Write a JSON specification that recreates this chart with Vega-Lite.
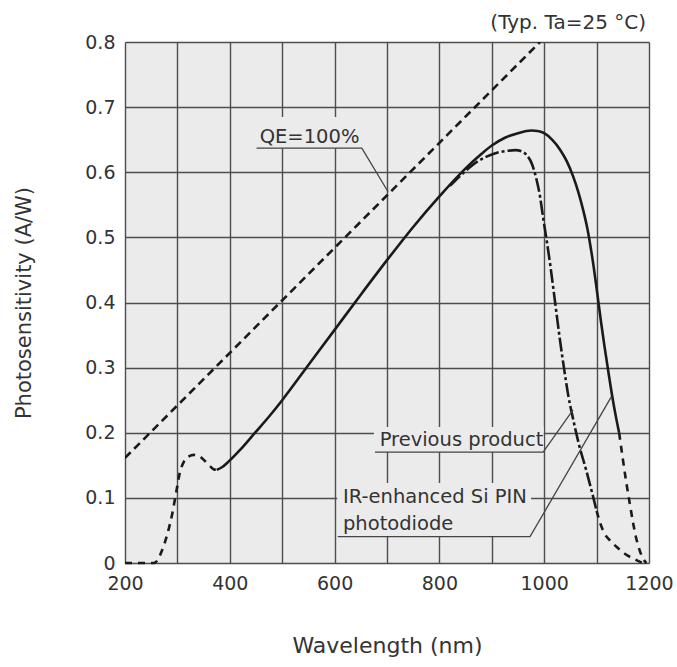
{
  "$schema": "https://vega.github.io/schema/vega-lite/v6.json",
  "width": 524,
  "height": 521,
  "autosize": "none",
  "padding": {"left": 125, "top": 42, "right": 28, "bottom": 104},
  "background": "white",
  "config": {
    "view": {"fill": "#ebebeb", "stroke": null},
    "font": "DejaVu Sans"
  },
  "datasets": {
    "curves": [
      {"series": "QE=100%", "part": "measured", "seg": "qe", "nm": 200, "s": 0.1613},
      {"series": "QE=100%", "part": "measured", "seg": "qe", "nm": 600, "s": 0.4839},
      {"series": "QE=100%", "part": "measured", "seg": "qe", "nm": 992, "s": 0.8},

      {"series": "IR-enhanced Si PIN photodiode", "part": "extrapolated", "seg": "left", "nm": 200, "s": 0},
      {"series": "IR-enhanced Si PIN photodiode", "part": "extrapolated", "seg": "left", "nm": 255, "s": 0},
      {"series": "IR-enhanced Si PIN photodiode", "part": "extrapolated", "seg": "left", "nm": 262, "s": 0.004},
      {"series": "IR-enhanced Si PIN photodiode", "part": "extrapolated", "seg": "left", "nm": 270, "s": 0.018},
      {"series": "IR-enhanced Si PIN photodiode", "part": "extrapolated", "seg": "left", "nm": 280, "s": 0.042},
      {"series": "IR-enhanced Si PIN photodiode", "part": "extrapolated", "seg": "left", "nm": 290, "s": 0.075},
      {"series": "IR-enhanced Si PIN photodiode", "part": "extrapolated", "seg": "left", "nm": 298, "s": 0.11},
      {"series": "IR-enhanced Si PIN photodiode", "part": "extrapolated", "seg": "left", "nm": 305, "s": 0.14},
      {"series": "IR-enhanced Si PIN photodiode", "part": "extrapolated", "seg": "left", "nm": 312, "s": 0.155},
      {"series": "IR-enhanced Si PIN photodiode", "part": "extrapolated", "seg": "left", "nm": 320, "s": 0.163},
      {"series": "IR-enhanced Si PIN photodiode", "part": "extrapolated", "seg": "left", "nm": 332, "s": 0.166},
      {"series": "IR-enhanced Si PIN photodiode", "part": "extrapolated", "seg": "left", "nm": 342, "s": 0.164},
      {"series": "IR-enhanced Si PIN photodiode", "part": "extrapolated", "seg": "left", "nm": 352, "s": 0.157},
      {"series": "IR-enhanced Si PIN photodiode", "part": "extrapolated", "seg": "left", "nm": 362, "s": 0.149},
      {"series": "IR-enhanced Si PIN photodiode", "part": "extrapolated", "seg": "left", "nm": 369, "s": 0.144},
      {"series": "IR-enhanced Si PIN photodiode", "part": "extrapolated", "seg": "left", "nm": 375, "s": 0.143},

      {"series": "IR-enhanced Si PIN photodiode", "part": "measured", "seg": "main", "nm": 375, "s": 0.143},
      {"series": "IR-enhanced Si PIN photodiode", "part": "measured", "seg": "main", "nm": 385, "s": 0.147},
      {"series": "IR-enhanced Si PIN photodiode", "part": "measured", "seg": "main", "nm": 398, "s": 0.156},
      {"series": "IR-enhanced Si PIN photodiode", "part": "measured", "seg": "main", "nm": 420, "s": 0.174},
      {"series": "IR-enhanced Si PIN photodiode", "part": "measured", "seg": "main", "nm": 447, "s": 0.199},
      {"series": "IR-enhanced Si PIN photodiode", "part": "measured", "seg": "main", "nm": 475, "s": 0.225},
      {"series": "IR-enhanced Si PIN photodiode", "part": "measured", "seg": "main", "nm": 500, "s": 0.25},
      {"series": "IR-enhanced Si PIN photodiode", "part": "measured", "seg": "main", "nm": 550, "s": 0.304},
      {"series": "IR-enhanced Si PIN photodiode", "part": "measured", "seg": "main", "nm": 600, "s": 0.358},
      {"series": "IR-enhanced Si PIN photodiode", "part": "measured", "seg": "main", "nm": 650, "s": 0.412},
      {"series": "IR-enhanced Si PIN photodiode", "part": "measured", "seg": "main", "nm": 700, "s": 0.465},
      {"series": "IR-enhanced Si PIN photodiode", "part": "measured", "seg": "main", "nm": 750, "s": 0.516},
      {"series": "IR-enhanced Si PIN photodiode", "part": "measured", "seg": "main", "nm": 800, "s": 0.563},
      {"series": "IR-enhanced Si PIN photodiode", "part": "measured", "seg": "main", "nm": 850, "s": 0.606},
      {"series": "IR-enhanced Si PIN photodiode", "part": "measured", "seg": "main", "nm": 880, "s": 0.628},
      {"series": "IR-enhanced Si PIN photodiode", "part": "measured", "seg": "main", "nm": 900, "s": 0.641},
      {"series": "IR-enhanced Si PIN photodiode", "part": "measured", "seg": "main", "nm": 925, "s": 0.653},
      {"series": "IR-enhanced Si PIN photodiode", "part": "measured", "seg": "main", "nm": 950, "s": 0.66},
      {"series": "IR-enhanced Si PIN photodiode", "part": "measured", "seg": "main", "nm": 975, "s": 0.664},
      {"series": "IR-enhanced Si PIN photodiode", "part": "measured", "seg": "main", "nm": 990, "s": 0.663},
      {"series": "IR-enhanced Si PIN photodiode", "part": "measured", "seg": "main", "nm": 1000, "s": 0.66},
      {"series": "IR-enhanced Si PIN photodiode", "part": "measured", "seg": "main", "nm": 1015, "s": 0.65},
      {"series": "IR-enhanced Si PIN photodiode", "part": "measured", "seg": "main", "nm": 1030, "s": 0.635},
      {"series": "IR-enhanced Si PIN photodiode", "part": "measured", "seg": "main", "nm": 1043, "s": 0.617},
      {"series": "IR-enhanced Si PIN photodiode", "part": "measured", "seg": "main", "nm": 1055, "s": 0.594},
      {"series": "IR-enhanced Si PIN photodiode", "part": "measured", "seg": "main", "nm": 1065, "s": 0.57},
      {"series": "IR-enhanced Si PIN photodiode", "part": "measured", "seg": "main", "nm": 1075, "s": 0.54},
      {"series": "IR-enhanced Si PIN photodiode", "part": "measured", "seg": "main", "nm": 1082, "s": 0.515},
      {"series": "IR-enhanced Si PIN photodiode", "part": "measured", "seg": "main", "nm": 1088, "s": 0.488},
      {"series": "IR-enhanced Si PIN photodiode", "part": "measured", "seg": "main", "nm": 1094, "s": 0.457},
      {"series": "IR-enhanced Si PIN photodiode", "part": "measured", "seg": "main", "nm": 1099, "s": 0.428},
      {"series": "IR-enhanced Si PIN photodiode", "part": "measured", "seg": "main", "nm": 1104, "s": 0.397},
      {"series": "IR-enhanced Si PIN photodiode", "part": "measured", "seg": "main", "nm": 1109, "s": 0.367},
      {"series": "IR-enhanced Si PIN photodiode", "part": "measured", "seg": "main", "nm": 1115, "s": 0.333},
      {"series": "IR-enhanced Si PIN photodiode", "part": "measured", "seg": "main", "nm": 1122, "s": 0.296},
      {"series": "IR-enhanced Si PIN photodiode", "part": "measured", "seg": "main", "nm": 1129, "s": 0.26},
      {"series": "IR-enhanced Si PIN photodiode", "part": "measured", "seg": "main", "nm": 1137, "s": 0.224},
      {"series": "IR-enhanced Si PIN photodiode", "part": "measured", "seg": "main", "nm": 1143, "s": 0.2},

      {"series": "IR-enhanced Si PIN photodiode", "part": "extrapolated", "seg": "right", "nm": 1143, "s": 0.2},
      {"series": "IR-enhanced Si PIN photodiode", "part": "extrapolated", "seg": "right", "nm": 1150, "s": 0.16},
      {"series": "IR-enhanced Si PIN photodiode", "part": "extrapolated", "seg": "right", "nm": 1157, "s": 0.122},
      {"series": "IR-enhanced Si PIN photodiode", "part": "extrapolated", "seg": "right", "nm": 1164, "s": 0.088},
      {"series": "IR-enhanced Si PIN photodiode", "part": "extrapolated", "seg": "right", "nm": 1170, "s": 0.06},
      {"series": "IR-enhanced Si PIN photodiode", "part": "extrapolated", "seg": "right", "nm": 1175, "s": 0.04},
      {"series": "IR-enhanced Si PIN photodiode", "part": "extrapolated", "seg": "right", "nm": 1180, "s": 0.025},
      {"series": "IR-enhanced Si PIN photodiode", "part": "extrapolated", "seg": "right", "nm": 1185, "s": 0.013},
      {"series": "IR-enhanced Si PIN photodiode", "part": "extrapolated", "seg": "right", "nm": 1190, "s": 0.005},
      {"series": "IR-enhanced Si PIN photodiode", "part": "extrapolated", "seg": "right", "nm": 1195, "s": 0},

      {"series": "Previous product", "part": "measured", "seg": "prev", "nm": 820, "s": 0.579},
      {"series": "Previous product", "part": "measured", "seg": "prev", "nm": 850, "s": 0.602},
      {"series": "Previous product", "part": "measured", "seg": "prev", "nm": 870, "s": 0.615},
      {"series": "Previous product", "part": "measured", "seg": "prev", "nm": 890, "s": 0.624},
      {"series": "Previous product", "part": "measured", "seg": "prev", "nm": 910, "s": 0.63},
      {"series": "Previous product", "part": "measured", "seg": "prev", "nm": 930, "s": 0.633},
      {"series": "Previous product", "part": "measured", "seg": "prev", "nm": 945, "s": 0.634},
      {"series": "Previous product", "part": "measured", "seg": "prev", "nm": 957, "s": 0.632},
      {"series": "Previous product", "part": "measured", "seg": "prev", "nm": 967, "s": 0.626},
      {"series": "Previous product", "part": "measured", "seg": "prev", "nm": 977, "s": 0.612},
      {"series": "Previous product", "part": "measured", "seg": "prev", "nm": 985, "s": 0.59},
      {"series": "Previous product", "part": "measured", "seg": "prev", "nm": 992, "s": 0.563},
      {"series": "Previous product", "part": "measured", "seg": "prev", "nm": 998, "s": 0.53},
      {"series": "Previous product", "part": "measured", "seg": "prev", "nm": 1005, "s": 0.494},
      {"series": "Previous product", "part": "measured", "seg": "prev", "nm": 1012, "s": 0.455},
      {"series": "Previous product", "part": "measured", "seg": "prev", "nm": 1018, "s": 0.418},
      {"series": "Previous product", "part": "measured", "seg": "prev", "nm": 1024, "s": 0.38},
      {"series": "Previous product", "part": "measured", "seg": "prev", "nm": 1030, "s": 0.343},
      {"series": "Previous product", "part": "measured", "seg": "prev", "nm": 1038, "s": 0.298},
      {"series": "Previous product", "part": "measured", "seg": "prev", "nm": 1046, "s": 0.257},
      {"series": "Previous product", "part": "measured", "seg": "prev", "nm": 1056, "s": 0.218},
      {"series": "Previous product", "part": "measured", "seg": "prev", "nm": 1066, "s": 0.183},
      {"series": "Previous product", "part": "measured", "seg": "prev", "nm": 1080, "s": 0.143},
      {"series": "Previous product", "part": "measured", "seg": "prev", "nm": 1092, "s": 0.106},
      {"series": "Previous product", "part": "measured", "seg": "prev", "nm": 1100, "s": 0.08},

      {"series": "Previous product", "part": "extrapolated", "seg": "prevtail", "nm": 1100, "s": 0.08},
      {"series": "Previous product", "part": "extrapolated", "seg": "prevtail", "nm": 1107, "s": 0.061},
      {"series": "Previous product", "part": "extrapolated", "seg": "prevtail", "nm": 1114, "s": 0.047},
      {"series": "Previous product", "part": "extrapolated", "seg": "prevtail", "nm": 1125, "s": 0.035},
      {"series": "Previous product", "part": "extrapolated", "seg": "prevtail", "nm": 1135, "s": 0.027},
      {"series": "Previous product", "part": "extrapolated", "seg": "prevtail", "nm": 1145, "s": 0.02},
      {"series": "Previous product", "part": "extrapolated", "seg": "prevtail", "nm": 1156, "s": 0.013},
      {"series": "Previous product", "part": "extrapolated", "seg": "prevtail", "nm": 1167, "s": 0.008},
      {"series": "Previous product", "part": "extrapolated", "seg": "prevtail", "nm": 1177, "s": 0.004},
      {"series": "Previous product", "part": "extrapolated", "seg": "prevtail", "nm": 1188, "s": 0}
    ],
    "boxes": [
      {"label": "QE=100%", "nm": 451, "nm2": 652, "s": 0.637, "s2": 0.685},
      {"label": "Previous product", "nm": 675, "nm2": 999, "s": 0.1703, "s2": 0.209},
      {"label": "IR-enhanced Si PIN photodiode", "nm": 605, "nm2": 975, "s": 0.0404, "s2": 0.123}
    ],
    "leaders": [
      {"label": "QE=100%", "nm": 451, "s": 0.637},
      {"label": "QE=100%", "nm": 652, "s": 0.637},
      {"label": "QE=100%", "nm": 702, "s": 0.57},
      {"label": "Previous product", "nm": 677, "s": 0.1703},
      {"label": "Previous product", "nm": 998, "s": 0.1703},
      {"label": "Previous product", "nm": 1055, "s": 0.235},
      {"label": "IR-enhanced Si PIN photodiode", "nm": 606, "s": 0.0404},
      {"label": "IR-enhanced Si PIN photodiode", "nm": 973, "s": 0.0404},
      {"label": "IR-enhanced Si PIN photodiode", "nm": 1128, "s": 0.255}
    ],
    "texts": [
      {"text": "QE=100%", "nm": 457, "s": 0.645},
      {"text": "Previous product", "nm": 686, "s": 0.1797},
      {"text": "IR-enhanced Si PIN", "nm": 616, "s": 0.0922},
      {"text": "photodiode", "nm": 616, "s": 0.0507}
    ],
    "note": [
      {"text": "(Typ. Ta=25 °C)", "nm": 1200, "s": 0.8}
    ]
  },
  "layer": [
    {
      "data": {"name": "boxes"},
      "mark": {"type": "rect", "fill": "#ebebeb", "stroke": null},
      "encoding": {
        "x": {
          "field": "nm", "type": "quantitative",
          "scale": {"domain": [200, 1200], "nice": false, "zero": false},
          "axis": {
            "title": "Wavelength (nm)",
            "values": [200, 300, 400, 500, 600, 700, 800, 900, 1000, 1100, 1200],
            "format": "d",
            "labelExpr": "datum.value % 200 === 0 ? datum.label : ''",
            "labelOverlap": false,
            "labelFlush": false,
            "grid": true,
            "gridColor": "#4d4d4d",
            "gridWidth": 1.4,
            "ticks": false,
            "tickSize": 0,
            "domain": false,
            "labelFont": "DejaVu Sans",
            "labelFontSize": 19,
            "labelColor": "#333333",
            "labelPadding": 11,
            "titleFont": "DejaVu Sans",
            "titleFontSize": 22,
            "titleFontWeight": "normal",
            "titleColor": "#333333",
            "titlePadding": 42
          }
        },
        "x2": {"field": "nm2"},
        "y": {
          "field": "s", "type": "quantitative",
          "scale": {"domain": [0, 0.8], "nice": false, "zero": false},
          "axis": {
            "title": "Photosensitivity (A/W)",
            "values": [0, 0.1, 0.2, 0.3, 0.4, 0.5, 0.6, 0.7, 0.8],
            "labelExpr": "datum.value === 0 ? '0' : format(datum.value, '.1f')",
            "labelOverlap": false,
            "labelFlush": false,
            "grid": true,
            "gridColor": "#4d4d4d",
            "gridWidth": 1.4,
            "ticks": false,
            "tickSize": 0,
            "domain": false,
            "labelFont": "DejaVu Sans",
            "labelFontSize": 19,
            "labelColor": "#333333",
            "labelPadding": 10,
            "titleFont": "DejaVu Sans",
            "titleFontSize": 21,
            "titleFontWeight": "normal",
            "titleColor": "#333333",
            "titlePadding": 50
          }
        },
        "y2": {"field": "s2"}
      }
    },
    {
      "data": {"name": "curves"},
      "transform": [{"filter": "datum.series === 'QE=100%'"}],
      "mark": {"type": "line", "stroke": "#1a1a1a", "strokeWidth": 2.6, "strokeDash": [8, 5], "clip": true},
      "encoding": {
        "x": {"field": "nm", "type": "quantitative"},
        "y": {"field": "s", "type": "quantitative"}
      }
    },
    {
      "data": {"name": "curves"},
      "transform": [{"filter": "datum.series === 'IR-enhanced Si PIN photodiode' && datum.part === 'measured'"}],
      "mark": {"type": "line", "stroke": "#1a1a1a", "strokeWidth": 2.6, "interpolate": "monotone"},
      "encoding": {
        "x": {"field": "nm", "type": "quantitative"},
        "y": {"field": "s", "type": "quantitative"}
      }
    },
    {
      "data": {"name": "curves"},
      "transform": [{"filter": "datum.part === 'extrapolated'"}],
      "mark": {"type": "line", "stroke": "#1a1a1a", "strokeWidth": 2.6, "strokeDash": [7, 6], "interpolate": "monotone"},
      "encoding": {
        "x": {"field": "nm", "type": "quantitative"},
        "y": {"field": "s", "type": "quantitative"},
        "detail": {"field": "seg"}
      }
    },
    {
      "data": {"name": "curves"},
      "transform": [{"filter": "datum.series === 'Previous product' && datum.part === 'measured'"}],
      "mark": {"type": "line", "stroke": "#1a1a1a", "strokeWidth": 2.6, "strokeDash": [14, 3, 3, 3], "interpolate": "monotone"},
      "encoding": {
        "x": {"field": "nm", "type": "quantitative"},
        "y": {"field": "s", "type": "quantitative"}
      }
    },
    {
      "data": {"name": "leaders"},
      "mark": {"type": "line", "stroke": "#444444", "strokeWidth": 1.3},
      "encoding": {
        "x": {"field": "nm", "type": "quantitative"},
        "y": {"field": "s", "type": "quantitative"},
        "detail": {"field": "label"}
      }
    },
    {
      "data": {"name": "texts"},
      "mark": {"type": "text", "align": "left", "baseline": "alphabetic", "font": "DejaVu Sans", "fontSize": 19.5, "color": "#333333"},
      "encoding": {
        "x": {"field": "nm", "type": "quantitative"},
        "y": {"field": "s", "type": "quantitative"},
        "text": {"field": "text"}
      }
    },
    {
      "mark": {"type": "rect", "filled": false, "fill": null, "stroke": "#1a1a1a", "strokeWidth": 2.6},
      "encoding": {
        "x": {"datum": 200, "type": "quantitative"},
        "x2": {"datum": 1200},
        "y": {"datum": 0, "type": "quantitative"},
        "y2": {"datum": 0.8}
      }
    },
    {
      "data": {"name": "note"},
      "mark": {"type": "text", "align": "right", "baseline": "alphabetic", "dy": -13, "dx": -3, "font": "DejaVu Sans", "fontSize": 20, "color": "#333333", "clip": false},
      "encoding": {
        "x": {"field": "nm", "type": "quantitative"},
        "y": {"field": "s", "type": "quantitative"},
        "text": {"field": "text"}
      }
    }
  ]
}
